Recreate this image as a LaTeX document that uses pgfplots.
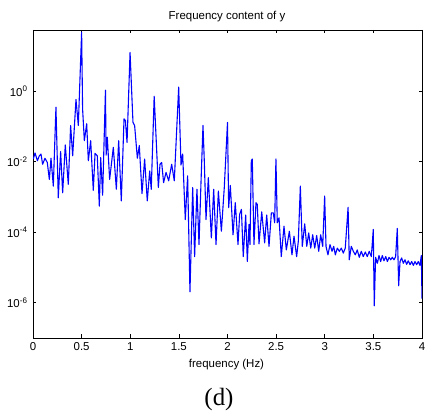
\documentclass[border=0pt]{standalone}
\usepackage{pgfplots}
\pgfplotsset{compat=1.18}
\usepackage{fontspec}
\setmainfont{Liberation Sans}
\newfontfamily\timesfont{Liberation Serif}
\begin{document}
\begin{tikzpicture}
\path[use as bounding box] (-33bp,-74bp) rectangle (394bp,338bp);
\begin{axis}[
  at={(0,0)}, anchor=south west,
  scale only axis, width=389bp, height=308bp,
  xmin=0, xmax=4, ymin=-7, ymax=1.74,
  xtick={0,0.5,1,1.5,2,2.5,3,3.5,4},
  xticklabels={0,0.5,1,1.5,2,2.5,3,3.5,4},
  ytick={-6,-4,-2,0},
  yticklabels={10\textsuperscript{-6},10\textsuperscript{-4},10\textsuperscript{-2},10\textsuperscript{0}},
  tick align=inside, tick pos=both,
  major tick length=3.5bp,
  minor tick num=0,
  axis line style={black, line width=0.9bp},
  every tick/.style={black, line width=0.6bp},
  tick label style={font=\fontsize{11.5}{13}\selectfont},
  xticklabel style={yshift=-1bp},
  yticklabel style={xshift=-2bp},
  /pgf/number format/assume math mode=true,
  clip=true,
]
\addplot[color={rgb,255:red,0;green,0;blue,255}, line width=1.1bp, line join=round] coordinates {
(0.003,-1.92) (0.021,-1.75) (0.045,-1.97) (0.065,-1.83) (0.082,-1.78) (0.099,-2.07)
(0.123,-1.90) (0.147,-2.02) (0.168,-2.50) (0.185,-1.90) (0.209,-2.69) (0.236,-0.45)
(0.260,-3.02) (0.284,-1.71) (0.305,-2.88) (0.332,-1.52) (0.363,-2.64) (0.387,-0.97)
(0.408,-1.83) (0.442,-0.23) (0.466,-0.97) (0.500,1.68) (0.510,-0.50) (0.528,-1.40)
(0.552,-0.92) (0.569,-1.97) (0.593,-1.40) (0.620,-2.81) (0.638,-1.76) (0.661,-1.83)
(0.682,-3.26) (0.696,-1.88) (0.716,-2.95) (0.745,0.03) (0.752,-1.81) (0.764,-1.30)
(0.788,-2.50) (0.826,-1.59) (0.857,-2.78) (0.881,-1.40) (0.908,-3.11) (0.936,-0.78)
(0.950,-0.83) (0.967,-1.45) (0.998,1.10) (1.028,-0.88) (1.045,-0.97) (1.073,-1.90)
(1.093,-1.54) (1.121,-2.90) (1.148,-1.92) (1.175,-3.11) (1.200,-2.26) (1.216,-2.78)
(1.246,-0.14) (1.268,-1.45) (1.289,-2.73) (1.306,-2.07) (1.323,-2.02) (1.343,-2.59)
(1.368,-2.30) (1.395,-2.54) (1.426,-2.07) (1.453,-2.54) (1.498,0.12) (1.522,-2.09)
(1.539,-1.78) (1.566,-3.64) (1.590,-2.40) (1.614,-5.69) (1.642,-2.73) (1.662,-4.69)
(1.686,-2.78) (1.707,-4.35) (1.728,-2.54) (1.748,-0.97) (1.762,-2.02) (1.779,-3.64)
(1.803,-2.45) (1.834,-4.16) (1.858,-2.78) (1.882,-4.35) (1.906,-2.83) (1.937,-3.97)
(1.967,-2.73) (2.000,-0.88) (2.012,-3.30) (2.029,-2.67) (2.057,-4.07) (2.080,-3.16)
(2.108,-4.35) (2.125,-3.49) (2.143,-3.35) (2.162,-4.69) (2.187,-3.51) (2.204,-4.83)
(2.221,-3.78) (2.231,-4.35) (2.245,-1.97) (2.255,-1.92) (2.272,-4.35) (2.293,-3.16)
(2.306,-3.21) (2.324,-4.33) (2.352,-3.42) (2.382,-4.30) (2.403,-3.51) (2.427,-4.40)
(2.451,-3.45) (2.471,-3.45) (2.485,-3.73) (2.498,-1.92) (2.512,-3.73) (2.530,-3.59)
(2.553,-4.69) (2.581,-3.83) (2.605,-4.50) (2.636,-3.97) (2.663,-4.64) (2.684,-4.11)
(2.711,-4.69) (2.728,-4.26) (2.749,-2.69) (2.769,-4.40) (2.794,-3.76) (2.815,-4.40)
(2.835,-4.02) (2.856,-4.45) (2.876,-4.07) (2.897,-4.45) (2.917,-4.09) (2.938,-4.54)
(2.958,-4.07) (2.979,-4.40) (2.999,-2.97) (3.013,-4.40) (3.033,-4.64) (3.054,-4.35)
(3.075,-4.54) (3.092,-4.40) (3.109,-4.64) (3.129,-4.45) (3.150,-4.54) (3.170,-4.45)
(3.191,-4.59) (3.211,-4.45) (3.240,-3.29) (3.252,-4.78) (3.273,-4.40) (3.294,-4.54)
(3.314,-4.64) (3.334,-4.50) (3.355,-4.71) (3.376,-4.54) (3.396,-4.69) (3.417,-4.56)
(3.437,-4.69) (3.458,-4.54) (3.479,-4.69) (3.499,-3.92) (3.509,-6.09) (3.523,-4.71)
(3.541,-4.88) (3.558,-4.66) (3.575,-4.83) (3.592,-4.66) (3.609,-4.81) (3.627,-4.69)
(3.644,-4.83) (3.661,-4.71) (3.678,-4.78) (3.695,-4.71) (3.712,-4.78) (3.729,-4.69)
(3.746,-3.89) (3.760,-5.52) (3.774,-4.83) (3.791,-4.73) (3.808,-4.88) (3.825,-4.78)
(3.842,-4.91) (3.859,-4.81) (3.877,-4.92) (3.894,-4.83) (3.911,-4.94) (3.928,-4.83)
(3.945,-4.92) (3.962,-4.83) (3.979,-4.94) (3.993,-4.66) (4.000,-5.88)
};
\end{axis}
\node[anchor=base, inner sep=0pt, font=\fontsize{11.5}{13}\selectfont] at (194bp,318.5bp) {Frequency content of y};
\node[anchor=base, inner sep=0pt, font=\fontsize{11.5}{13}\selectfont] at (193.5bp,-29bp) {frequency (Hz)};
\node[anchor=base, inner sep=0pt, font=\timesfont\fontsize{25}{28}\selectfont] at (186bp,-67bp) {(d)};
\end{tikzpicture}
\end{document}
